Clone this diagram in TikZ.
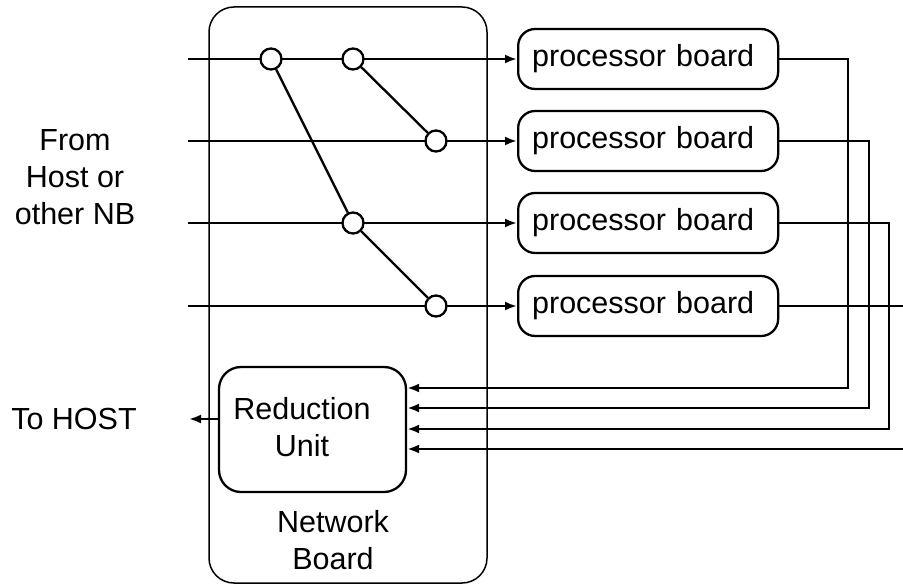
\documentclass[tikz,border=0pt]{standalone}
\usepackage{fontspec}
\setmainfont{Liberation Sans}
\usetikzlibrary{arrows.meta,backgrounds}
\begin{document}
\begin{tikzpicture}[x=1pt,y=-1pt,
  txt/.style={font=\fontsize{30.5pt}{37pt}\selectfont, inner sep=0pt, align=center},
  wire/.style={line width=2.3pt},
  arr/.style={wire,-{Latex[length=12pt,width=9pt]}},
  sw/.style={circle,draw,line width=2.3pt,fill=white,minimum size=21pt,inner sep=0pt},
  pboard/.style={draw,line width=2.3pt,rounded corners=17pt,anchor=west,
     minimum height=60pt,text width=232pt,align=left,inner xsep=14pt,
     font=\fontsize{30.5pt}{37pt}\selectfont},
  rubox/.style={draw,line width=2.3pt,rounded corners=22pt,minimum width=187pt,minimum height=125pt,inner sep=0pt},
  nbbox/.style={draw,line width=1.5pt,rounded corners=25pt}
]
\useasboundingbox (0,0) rectangle (903,585);
% network board outline
\node[nbbox,minimum width=278pt,minimum height=576pt,inner sep=0pt] (nb) at (348,295) {};
\node[txt] (nblabel) at (333,540) {Network\\Board};
% processor boards
\node[pboard] (pb1) at (517,59) {processor board};
\node[pboard] (pb2) at (517,141) {processor board};
\node[pboard] (pb3) at (517,223) {processor board};
\node[pboard] (pb4) at (517,306) {processor board};
% switches
\node[sw] (s1) at (271,59) {};
\node[sw] (s2) at (353,59) {};
\node[sw] (s3) at (436,141) {};
\node[sw] (s4) at (353,223) {};
\node[sw] (s5) at (436,306) {};
% inputs
\coordinate (i1) at (188,59);
\coordinate (i2) at (188,141);
\coordinate (i3) at (188,223);
\coordinate (i4) at (188,306);
\begin{pgfonlayer}{background}
\draw[arr] (i1) -- (pb1.west);
\draw[arr] (i2) -- (pb2.west);
\draw[arr] (i3) -- (pb3.west);
\draw[arr] (i4) -- (pb4.west);
\end{pgfonlayer}
\draw[wire] (s1) -- (s4);
\draw[wire] (s2) -- (s3);
\draw[wire] (s4) -- (s5);
% labels left
\node[txt] (from) at (75,177) {From\\Host or\\other NB};
\node[txt] (tohost) at (74,419) {To HOST};
% reduction unit
\node[rubox] (ru) at (312.5,429.5) {};
\node[txt] (rulabel) at (302,427) {Reduction\\Unit};
\coordinate (out) at (189,419);
\draw[arr] (ru.west |- out) -- (out);
% feedback lines
\coordinate (k1) at (848,388);
\coordinate (k2) at (869,408);
\coordinate (k3) at (889,429);
\coordinate (e4) at (903,306);
\coordinate (e5) at (903,449);
\draw[arr] (pb1.east) -| (k1) -- (ru.east |- k1);
\draw[arr] (pb2.east) -| (k2) -- (ru.east |- k2);
\draw[arr] (pb3.east) -| (k3) -- (ru.east |- k3);
\draw[wire] (pb4.east) -- (e4);
\draw[arr] (e5) -- (ru.east |- e5);
\end{tikzpicture}
\end{document}
